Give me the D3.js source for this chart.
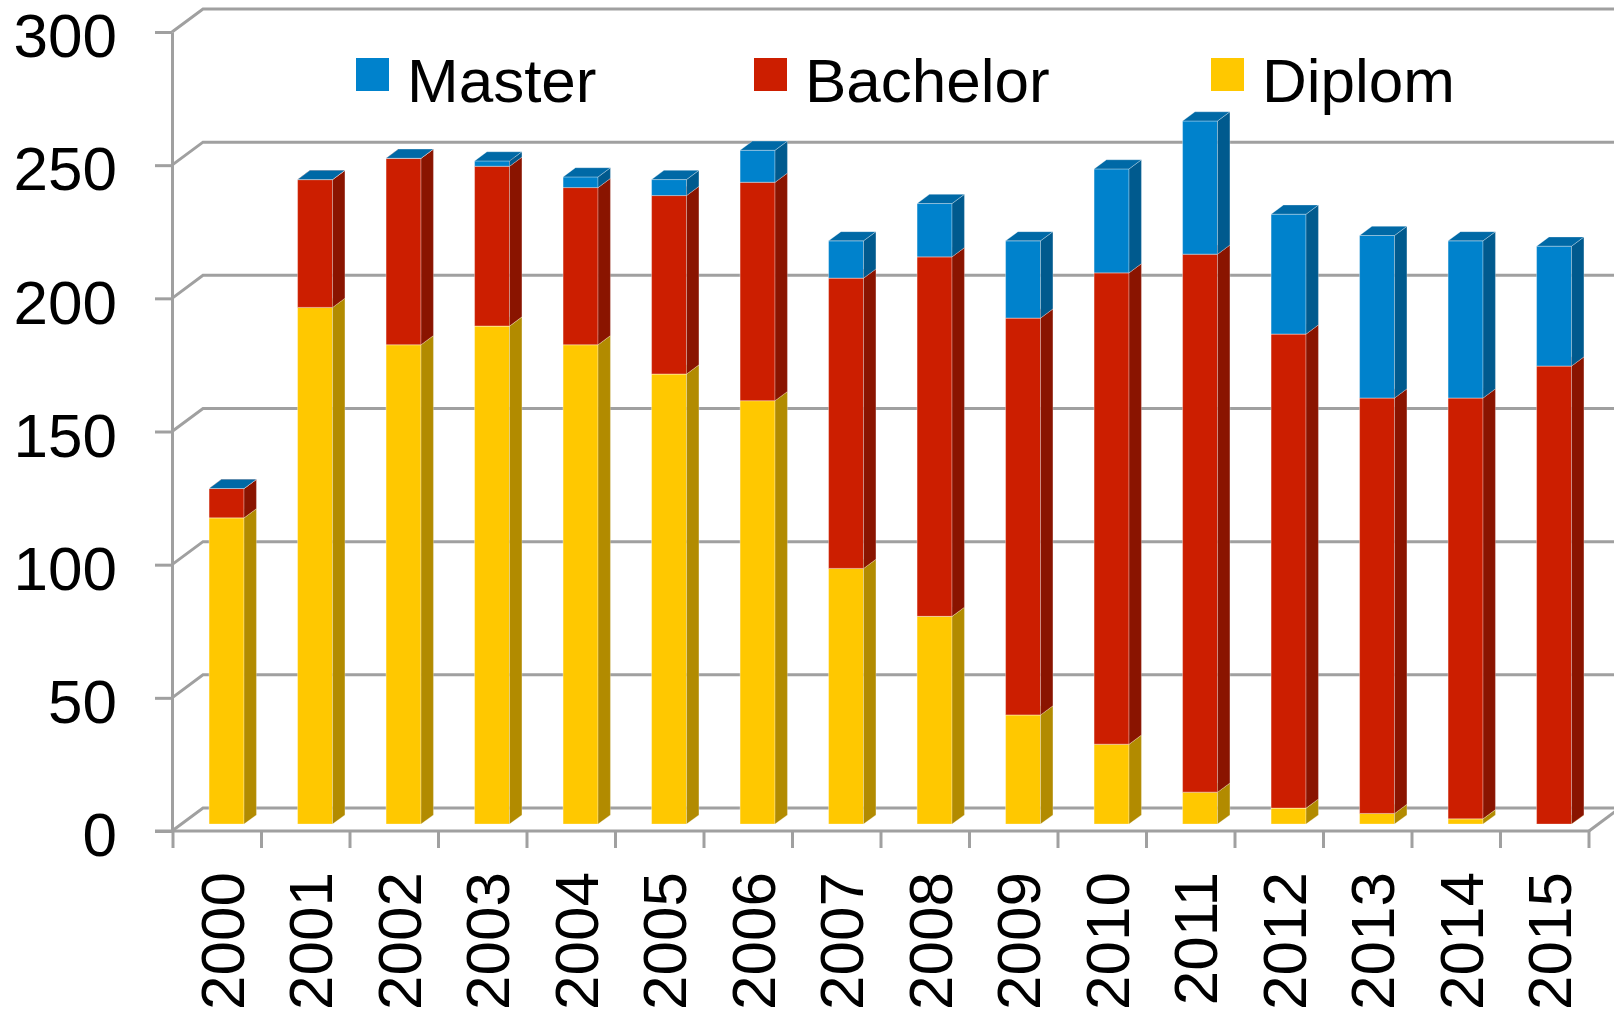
<!DOCTYPE html>
<html lang="de">

<head>
  <meta charset="UTF-8">
  <title>Abschlüsse 2000–2015</title>
  <script src="https://d3js.org/d3.v7.min.js"></script>
  <style>
    body {
      margin: 0;
      background: #fff;
      font-family: "Liberation Sans", Arial, sans-serif;
    }

    .grid {
      stroke: #a0a0a0;
      stroke-width: 3;
      fill: none;
    }

    .axis path,
    .axis line {
      stroke: #a0a0a0;
      stroke-width: 3;
    }

    .axis text,
    .legend text {
      font-family: "Liberation Sans", Arial, sans-serif;
      font-size: 62px;
      fill: #000;
    }
  </style>
</head>

<body>
  <div id="chart"></div>

  <script>
    // data
    const years = ["2000", "2001", "2002", "2003", "2004", "2005", "2006", "2007",
      "2008", "2009", "2010", "2011", "2012", "2013", "2014", "2015"];
    const diplom = [115, 194, 180, 187, 180, 169, 159, 96, 78, 41, 30, 12, 6, 4, 2, 0];
    const bachelor = [11, 48, 70, 60, 59, 67, 82, 109, 135, 149, 177, 202, 178, 156, 158, 172];
    const master = [0, 0, 0, 2, 4, 6, 12, 14, 20, 29, 39, 50, 45, 61, 59, 45];
    const yTicks = [0, 50, 100, 150, 200, 250, 300];
    const legendNames = ["Master", "Bachelor", "Diplom"];

    // colours per series: front, side, top
    const colors = {
      Diplom: { front: "#ffc800", side: "#b28b00", top: "#d9aa00" },
      Bachelor: { front: "#cc1e00", side: "#8a1400", top: "#a81800" },
      Master: { front: "#0082cc", side: "#005a8e", top: "#0069a6" }
    };

    const W = 1614, H = 1014;
    const x0 = 173, x1 = 1589;       // front plane of the floor
    const depthX = 31, depthY = 23;  // offset of the back wall
    const z0 = 0.3, z1 = 0.7;        // bar depth inside the box

    const svg = d3.select("#chart").append("svg")
      .attr("width", W)
      .attr("height", H);

    const y = d3.scaleLinear().domain([0, 300]).range([831, 32]);

    const xBand = d3.scaleBand().domain(years).range([x0, x1]).padding(0);
    const xBar = d3.scaleBand().domain(years).range([x0, x1])
      .paddingInner(0.605).paddingOuter(0.3025);

    const px = (x, z) => x + depthX * z;
    const py = (v, z) => y(v) - depthY * z;

    // back wall grid and side diagonals
    const grid = svg.append("g");
    yTicks.forEach(t => {
      grid.append("path").attr("class", "grid")
        .attr("d", `M${x0 - 1},${y(t)}L${px(x0 - 1, 1)},${py(t, 1)}L${W + 10},${py(t, 1)}`);
    });
    // right edge of the floor
    grid.append("path").attr("class", "grid")
      .attr("d", `M${x1},${y(0)}L${px(x1, 1)},${py(0, 1)}`);

    // axes
    svg.append("g")
      .attr("class", "axis")
      .attr("transform", `translate(${x0 - 1},0)`)
      .call(d3.axisLeft(y).tickValues(yTicks).tickSize(17).tickSizeOuter(0).tickPadding(38))
      .call(g => g.selectAll("text").attr("dy", "0.4em"));

    const xAxis = svg.append("g").attr("class", "axis");
    xAxis.append("line")
      .attr("x1", x0 - 18).attr("x2", x1)
      .attr("y1", y(0)).attr("y2", y(0));
    xAxis.selectAll(".xt")
      .data(years.map(d => xBand(d)).concat([x1]))
      .enter().append("line")
      .attr("x1", d => d).attr("x2", d => d)
      .attr("y1", y(0)).attr("y2", y(0) + 17);
    xAxis.selectAll(".xl")
      .data(years)
      .enter().append("text")
      .attr("transform", d => `translate(${xBand(d) + xBand.bandwidth() / 2 + 5},872) rotate(-90)`)
      .attr("text-anchor", "end")
      .attr("dy", "0.35em")
      .text(d => d);

    // stacked 3d bars
    const series = [
      { name: "Diplom", values: diplom },
      { name: "Bachelor", values: bachelor },
      { name: "Master", values: master }
    ];

    const bars = svg.append("g");
    const bw = xBar.bandwidth();
    years.forEach((yr, i) => {
      let base = 0;
      const xl = xBar(yr);
      series.forEach(s => {
        const v0 = base, v1 = base + s.values[i];
        base = v1;
        const c = colors[s.name];
        const g = bars.append("g");
        // front
        g.append("path")
          .attr("d", `M${px(xl, z0)},${py(v0, z0)}L${px(xl + bw, z0)},${py(v0, z0)}` +
            `L${px(xl + bw, z0)},${py(v1, z0)}L${px(xl, z0)},${py(v1, z0)}Z`)
          .attr("fill", c.front)
          .attr("stroke", "rgba(255,255,255,0.35)").attr("stroke-width", 1);
        // right side
        g.append("path")
          .attr("d", `M${px(xl + bw, z0)},${py(v0, z0)}L${px(xl + bw, z1)},${py(v0, z1)}` +
            `L${px(xl + bw, z1)},${py(v1, z1)}L${px(xl + bw, z0)},${py(v1, z0)}Z`)
          .attr("fill", c.side)
          .attr("stroke", "rgba(255,255,255,0.25)").attr("stroke-width", 1);
        // top
        g.append("path")
          .attr("d", `M${px(xl, z0)},${py(v1, z0)}L${px(xl + bw, z0)},${py(v1, z0)}` +
            `L${px(xl + bw, z1)},${py(v1, z1)}L${px(xl, z1)},${py(v1, z1)}Z`)
          .attr("fill", c.top)
          .attr("stroke", "rgba(255,255,255,0.3)").attr("stroke-width", 1);
      });
    });

    // legend
    const legendX = [356, 754, 1211];
    const legend = svg.append("g").attr("class", "legend");
    legendNames.forEach((n, i) => {
      legend.append("rect")
        .attr("x", legendX[i]).attr("y", 58)
        .attr("width", 33).attr("height", 33)
        .attr("fill", colors[n].front);
      legend.append("text")
        .attr("x", legendX[i] + 51).attr("y", 102)
        .text(n);
    });
  </script>
</body>

</html>
